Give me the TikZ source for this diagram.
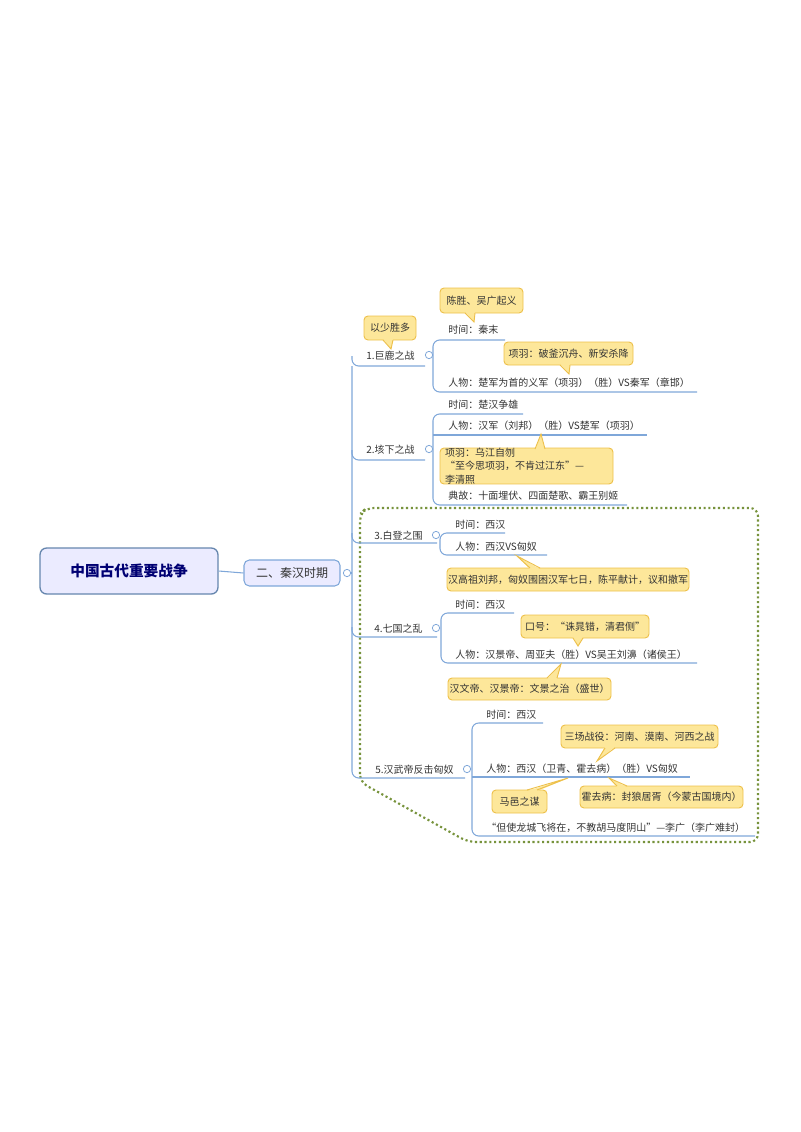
\documentclass[tikz,border=0pt]{standalone}
\usepackage{fontspec}
\setmainfont{Noto Sans CJK SC}
\begin{document}
\begin{tikzpicture}[x=0.75pt,y=-0.75pt]
\definecolor{ln}{HTML}{7FA7D9}
\definecolor{cf}{HTML}{FDE79A}
\definecolor{cb}{HTML}{EDC04A}
\definecolor{tx}{HTML}{333333}
\definecolor{dg}{HTML}{77933C}
\tikzset{
 lbl/.style={anchor=base west,inner sep=0pt,font=\fontsize{7.5}{9}\selectfont,text=tx},
 uline/.style={draw=ln,line width=0.8pt,rounded corners=5pt},
 call/.style={draw=cb,fill=cf,rounded corners=3pt,line width=0.7pt,inner sep=0pt,font=\fontsize{7.5}{10}\selectfont,text=tx,align=left},
 tog/.style={circle,draw=ln,fill=white,minimum size=5.5pt,inner sep=0pt,line width=0.6pt},
}
\useasboundingbox (0,0) rectangle (800,1132);
% dotted frame
\draw[dg,line width=1.6pt,dotted,rounded corners=6pt] (360,782) -- (360,514) -- (366,508) -- (758,508) -- (758,842) -- (468,842) -- cycle;
% root
\node[draw=ln!80!black,fill=blue!8,line width=1pt,rounded corners=5pt,minimum width=178*0.75pt,minimum height=46*0.75pt,font=\fontsize{11}{13}\bfseries\selectfont,text=blue!45!black] (root) at (129,571) {中国古代重要战争};
\node[draw=ln,fill=blue!8,line width=0.8pt,rounded corners=4pt,minimum width=96*0.75pt,minimum height=26*0.75pt,font=\fontsize{9}{11}\selectfont,text=tx] (qh) at (292,573) {二、秦汉时期};
\draw[ln,line width=0.8pt] (root.east) -- (qh.west);
\node[tog] (t0) at (347,573) {};
% trunk
\coordinate (tr) at (352,573);
\draw[uline] (t0.east) -- (tr);
\draw[uline] (352,366) -- (352,778) -- (465,778);
\draw[uline] (tr |- 366,366) -- (352,366) ;
\foreach \y/\e in {366/425,460/425,543/437,637/437}{\draw[uline] (352,\y-10) -- (352,\y) -- (\e,\y);}
% branch labels
\node[lbl] (b1) at (366,359) {1.巨鹿之战}; \node[tog] (c1) at (429,355) {};
\node[lbl] (b2) at (366,453) {2.垓下之战}; \node[tog] (c2) at (429,449) {};
\node[lbl] (b3) at (374,539) {3.白登之围}; \node[tog] (c3) at (436,535) {};
\node[lbl] (b4) at (374,632) {4.七国之乱}; \node[tog] (c4) at (436,628) {};
\node[lbl] (b5) at (375,773) {5.汉武帝反击匈奴}; \node[tog] (c5) at (467,769) {};
% sub lines
\draw[uline] (505,340) -- (433,340) -- (433,392) -- (697,392);
\draw[uline] (523,414) -- (433,414) -- (433,505) -- (627,505);
\draw[uline] (433,435) -- (647,435);
\draw[uline] (505,533) -- (440,533) -- (440,555) -- (547,555);
\draw[uline] (514,613) -- (441,613) -- (441,663) -- (697,663);
\draw[uline] (543,723) -- (472,723) -- (472,836) -- (755,836);
\draw[uline] (472,777) -- (690,777);
% leaf texts
\node[lbl] (l11) at (448,333) {时间：秦末};
\node[lbl] (l12) at (448,386) {人物：楚军为首的义军（项羽）（胜）VS秦军（章邯）};
\node[lbl] (l21) at (448,408) {时间：楚汉争雄};
\node[lbl] (l22) at (448,429) {人物：汉军（刘邦）（胜）VS楚军（项羽）};
\node[lbl] (l23) at (448,499) {典故：十面埋伏、四面楚歌、霸王别姬};
\node[lbl] (l31) at (455,528) {时间：西汉};
\node[lbl] (l32) at (455,550) {人物：西汉VS匈奴};
\node[lbl] (l41) at (455,608) {时间：西汉};
\node[lbl] (l42) at (455,658) {人物：汉景帝、周亚夫（胜）VS吴王刘濞（诸侯王）};
\node[lbl] (l51) at (486,718) {时间：西汉};
\node[lbl] (l52) at (486,772) {人物：西汉（卫青、霍去病）（胜）VS匈奴};
\node[lbl] (l53) at (486,831) {“但使龙城飞将在，不教胡马度阴山”—李广（李广难封）};
% callouts: box, then pointer
\newcommand{\callptr}[5]{% edge y, base x, tip x, tip y, inward dir (+1 down into box / -1)
 \fill[cf] (#2-5,#1+#5*1.2) -- (#3,#4) -- (#2+5,#1+#5*1.2) -- cycle;
 \draw[cb,line width=0.7pt] (#2-5,#1) -- (#3,#4) -- (#2+5,#1);}
\node[call,minimum width=83*0.75pt,minimum height=25*0.75pt] (k1) at (481.5,300.5) {陈胜、吴广起义};
\callptr{313}{470}{474}{322}{-1}
\node[call,minimum width=52*0.75pt,minimum height=24*0.75pt] (k2) at (390,328) {以少胜多};
\callptr{340}{388}{391}{349}{-1}
\node[call,minimum width=129*0.75pt,minimum height=23*0.75pt] (k3) at (568.5,353.5) {项羽：破釜沉舟、新安杀降};
\callptr{365}{565}{569}{374}{-1}
\node[call,minimum width=173*0.75pt,minimum height=34*0.75pt,text width=163*0.75pt] (k4) at (526.5,466) {项羽：乌江自刎\\“至今思项羽，不肯过江东”—李清照};
\callptr{449}{540}{541}{434}{1}
\node[call,minimum width=242*0.75pt,minimum height=23*0.75pt] (k5) at (568,579.5) {汉高祖刘邦，匈奴围困汉军七日，陈平献计，议和撤军};
\callptr{568}{535}{517}{556}{1}
\node[call,minimum width=128*0.75pt,minimum height=23*0.75pt] (k6) at (585,626.5) {口号：“诛晁错，清君侧”};
\callptr{638}{578}{578}{646}{-1}
\node[call,minimum width=163*0.75pt,minimum height=22*0.75pt] (k7) at (529.5,689) {汉文帝、汉景帝：文景之治（盛世）};
\callptr{678}{552}{561}{664}{1}
\node[call,minimum width=157*0.75pt,minimum height=23*0.75pt] (k8) at (639.5,736.5) {三场战役：河南、漠南、河西之战};
\callptr{748}{610}{597}{761}{-1}
\node[call,minimum width=55*0.75pt,minimum height=23*0.75pt] (k9) at (519.5,801.5) {马邑之谋};
\callptr{790}{532}{568}{778}{1}
\node[call,minimum width=163*0.75pt,minimum height=22*0.75pt] (k10) at (661.5,797) {霍去病：封狼居胥（今蒙古国境内）};
\callptr{786}{622}{609}{778}{1}
\end{tikzpicture}
\end{document}
